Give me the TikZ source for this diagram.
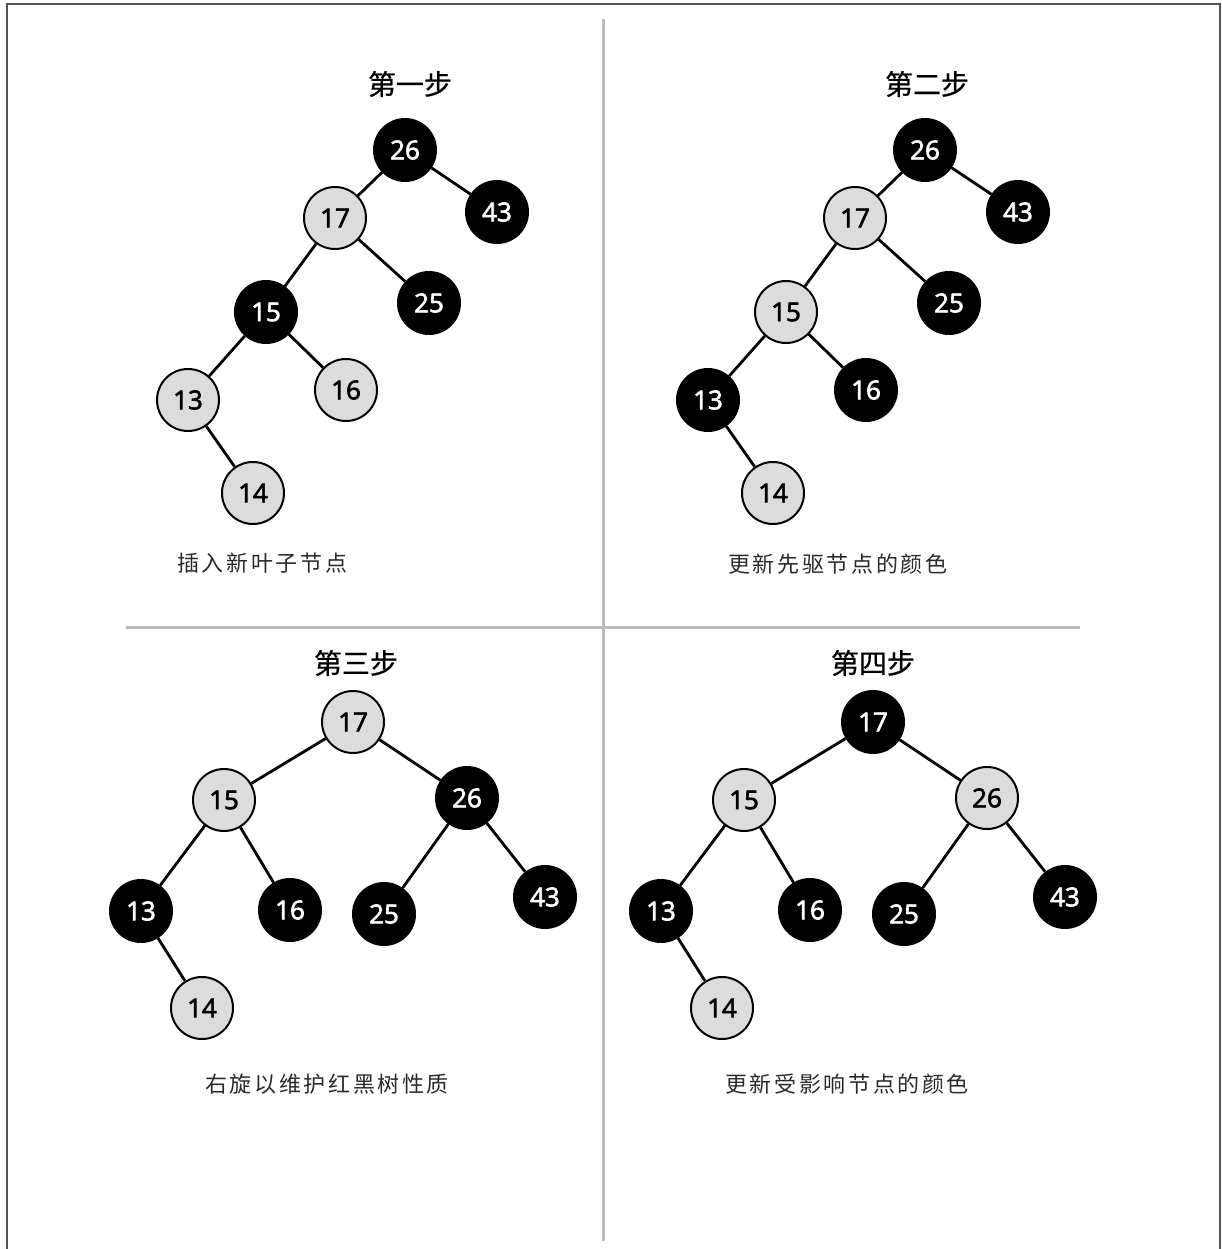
\documentclass[tikz,border=0pt]{standalone}
\usepackage{fontspec}
\setmainfont{Open Sans}
\newfontfamily\numfont[FakeBold=2.5]{Open Sans}
\newfontfamily\cjktitle[FakeBold=0.6]{Noto Sans CJK SC}
\newfontfamily\cjkcap[LetterSpace=12]{Noto Sans CJK SC}
\definecolor{nodegray}{HTML}{DCDCDC}
\definecolor{divgray}{HTML}{BBBBBB}
\definecolor{framegray}{HTML}{555555}
\definecolor{captext}{HTML}{2A2A2A}
\tikzset{
  rb/.style={circle, draw=black, line width=2pt, minimum size=62pt, inner sep=0pt, font=\numfont\fontsize{26}{26}\selectfont},
  blk/.style={rb, fill=black, text=white},
  gry/.style={rb, fill=nodegray, text=black},
  edge/.style={line width=2.8pt, black},
  ttl/.style={font=\cjktitle\fontsize{28}{28}\selectfont, text=black, inner sep=0pt},
  captxt/.style={font=\cjkcap\fontsize{22}{22}\selectfont, text=captext, inner sep=0pt, anchor=west},
  divider/.style={line width=3pt, divgray},
  frameline/.style={line width=1.5pt, framegray}
}
\begin{document}
\begin{tikzpicture}[x=1pt,y=-1pt]
\useasboundingbox (0,0) rectangle (1221,1249);
% frame
\coordinate (fbl) at (7,1249);
\coordinate (ftl) at (7,4);
\coordinate (ftr) at (1220,4);
\coordinate (fbr) at (1220,1249);
\draw[frameline] (fbl) -- (ftl) -- (ftr) -- (fbr);
% dividers
\coordinate (vt) at (603,19);
\coordinate (vb) at (603,1241);
\coordinate (hl) at (126,627);
\coordinate (hr) at (1080,627);
\draw[divider] (vt) -- (vb);
\draw[divider] (hl) -- (hr);

% ---------- Panel 1 ----------
\node[ttl] (t1) at (410,84) {第一步};
\node[blk] (a26) at (405,150) {26};
\node[blk] (a43) at (497,212) {43};
\node[gry] (a17) at (335,218) {17};
\node[blk] (a25) at (429,303) {25};
\node[blk] (a15) at (266,312) {15};
\node[gry] (a13) at (188,400) {13};
\node[gry] (a16) at (346,390) {16};
\node[gry] (a14) at (253,493) {14};
\draw[edge] (a26) -- (a17);
\draw[edge] (a26) -- (a43);
\draw[edge] (a17) -- (a15);
\draw[edge] (a17) -- (a25);
\draw[edge] (a15) -- (a13);
\draw[edge] (a15) -- (a16);
\draw[edge] (a13) -- (a14);
\node[captxt] (c1) at (177,563) {插入新叶子节点};

% ---------- Panel 2 ----------
\node[ttl] (t2) at (927,84) {第二步};
\node[blk] (b26) at (925,150) {26};
\node[blk] (b43) at (1018,212) {43};
\node[gry] (b17) at (855,218) {17};
\node[blk] (b25) at (949,303) {25};
\node[gry] (b15) at (786,312) {15};
\node[blk] (b13) at (708,400) {13};
\node[blk] (b16) at (866,390) {16};
\node[gry] (b14) at (773,493) {14};
\draw[edge] (b26) -- (b17);
\draw[edge] (b26) -- (b43);
\draw[edge] (b17) -- (b15);
\draw[edge] (b17) -- (b25);
\draw[edge] (b15) -- (b13);
\draw[edge] (b15) -- (b16);
\draw[edge] (b13) -- (b14);
\node[captxt] (c2) at (728,564) {更新先驱节点的颜色};

% ---------- Panel 3 ----------
\node[ttl] (t3) at (356,663) {第三步};
\node[gry] (c17) at (353,722) {17};
\node[gry] (c15) at (224,800) {15};
\node[blk] (c26) at (467,798) {26};
\node[blk] (c13) at (141,911) {13};
\node[blk] (c16) at (290,910) {16};
\node[blk] (c25) at (384,914) {25};
\node[blk] (c43) at (545,897) {43};
\node[gry] (c14) at (202,1008) {14};
\draw[edge] (c17) -- (c15);
\draw[edge] (c17) -- (c26);
\draw[edge] (c15) -- (c13);
\draw[edge] (c15) -- (c16);
\draw[edge] (c26) -- (c25);
\draw[edge] (c26) -- (c43);
\draw[edge] (c13) -- (c14);
\node[captxt] (c3) at (205,1084) {右旋以维护红黑树性质};

% ---------- Panel 4 ----------
\node[ttl] (t4) at (873,663) {第四步};
\node[blk] (d17) at (873,722) {17};
\node[gry] (d15) at (744,800) {15};
\node[gry] (d26) at (987,798) {26};
\node[blk] (d13) at (661,911) {13};
\node[blk] (d16) at (810,910) {16};
\node[blk] (d25) at (904,914) {25};
\node[blk] (d43) at (1065,897) {43};
\node[gry] (d14) at (722,1008) {14};
\draw[edge] (d17) -- (d15);
\draw[edge] (d17) -- (d26);
\draw[edge] (d15) -- (d13);
\draw[edge] (d15) -- (d16);
\draw[edge] (d26) -- (d25);
\draw[edge] (d26) -- (d43);
\draw[edge] (d13) -- (d14);
\node[captxt] (c4) at (725,1084) {更新受影响节点的颜色};
\end{tikzpicture}
\end{document}
